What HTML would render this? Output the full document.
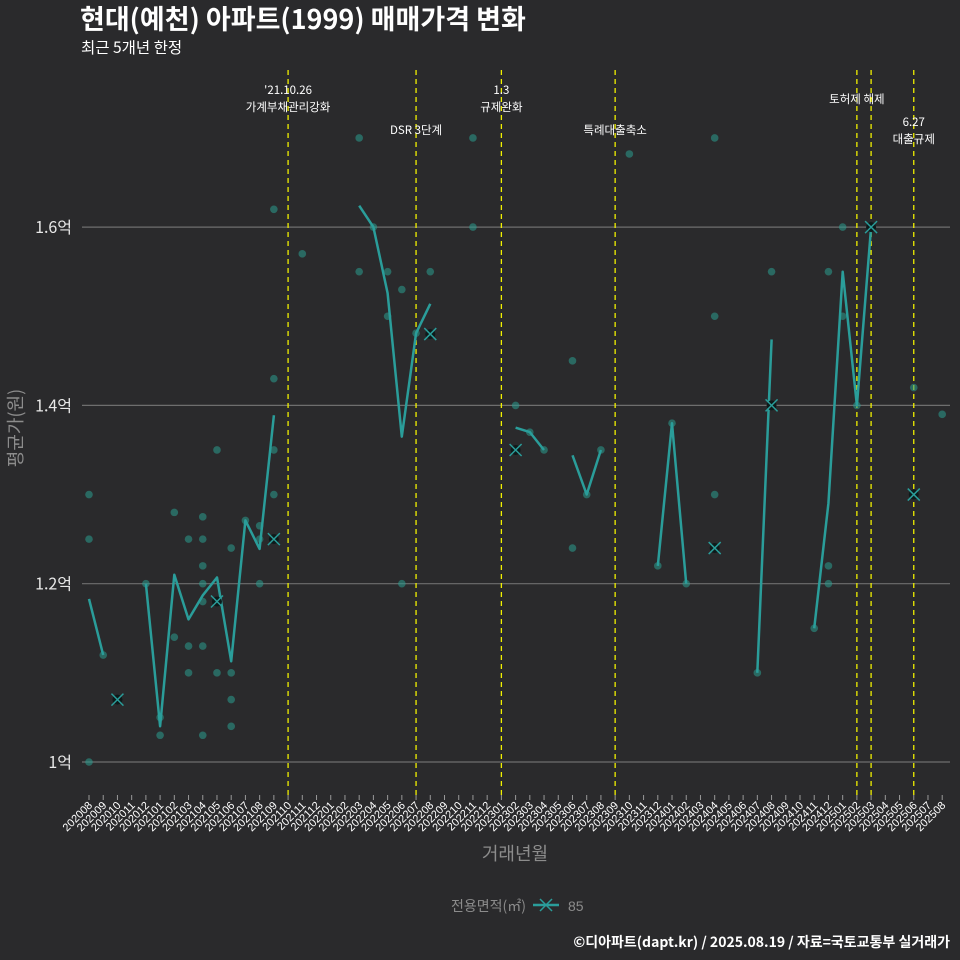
<!DOCTYPE html>
<html><head><meta charset="utf-8">
<style>
html,body{margin:0;padding:0;background:#2a2a2c;}
svg{display:block;font-family:"Liberation Sans","Noto Sans CJK KR",sans-serif;}
.kr{font-family:"Noto Sans CJK KR","Liberation Sans",sans-serif;}
</style></head>
<body>
<svg id="chart" width="960" height="960" viewBox="0 0 960 960">
<rect x="0" y="0" width="960" height="960" fill="#2a2a2c"/>
<text class="kr" x="80" y="29" font-size="27" font-weight="bold" fill="#ffffff">현대(예천) 아파트(1999) 매매가격 변화</text>
<text class="kr" x="81" y="53" font-size="15.5" fill="#ffffff">최근 5개년 한정</text>
<g id="grid"></g><g id="events"></g><g id="series"></g><g id="xaxis"></g>
<text class="kr" x="22" y="428" font-size="18" fill="#8c8c8c" text-anchor="middle" transform="rotate(-90 22 428)">평균가(원)</text>
<text class="kr" x="515" y="860" font-size="18" fill="#8c8c8c" text-anchor="middle">거래년월</text>
<g>
<text class="kr" x="526" y="911" font-size="14" fill="#8c8c8c" text-anchor="end">전용면적(㎡)</text>
<line x1="533" y1="905" x2="559" y2="905" stroke="#2a9d9a" stroke-width="2.5"/>
<path d="M540 899 L552 911 M552 899 L540 911" stroke="#2a9d9a" stroke-width="1.5"/>
<text x="568" y="911" font-size="14" fill="#8c8c8c">85</text>
</g>
<text class="kr" x="950" y="947" font-size="14" font-weight="bold" fill="#ffffff" text-anchor="end">©디아파트(dapt.kr) / 2025.08.19 / 자료=국토교통부 실거래가</text>
</svg>
<script>
const months = [];
for (let y = 2020, m = 8; months.length < 61; ) { months.push(y + String(m).padStart(2, '0')); m++; if (m > 12) { m = 1; y++; } }
const yTicks = [1.0, 1.2, 1.4, 1.6];
const yTickLabels = ['1억', '1.2억', '1.4억', '1.6억'];
const lineIdx = [0,1,null,4,5,6,7,8,9,10,11,12,13,null,19,20,21,22,23,24,null,30,31,32,null,34,35,36,null,40,41,42,null,47,48,null,51,52,53,54,55];
const lineVal = [1.183,1.12,null,1.2,1.04,1.21,1.16,1.187,1.207,1.113,1.271,1.239,1.389,null,1.624,1.6,1.526,1.365,1.481,1.514,null,1.375,1.37,1.35,null,1.344,1.30,1.35,null,1.22,1.38,1.20,null,1.10,1.474,null,1.15,1.29,1.55,1.40,1.60];
const dotIdx = [0,0,0,1,4,5,5,6,6,7,7,7,8,8,8,8,8,8,8,9,9,10,10,10,10,11,12,12,12,13,13,13,13,15,19,19,20,21,21,22,22,23,24,27,27,30,31,32,34,34,35,36,38,40,41,42,44,44,44,47,48,51,52,52,52,53,53,54,58,60];
const dotVal = [1.30,1.25,1.0,1.12,1.2,1.05,1.03,1.28,1.14,1.25,1.13,1.10,1.275,1.25,1.22,1.20,1.18,1.13,1.03,1.35,1.10,1.24,1.10,1.07,1.04,1.271,1.265,1.25,1.20,1.62,1.43,1.35,1.30,1.57,1.70,1.55,1.6,1.55,1.50,1.53,1.20,1.481,1.55,1.70,1.60,1.40,1.37,1.35,1.45,1.24,1.30,1.35,1.682,1.22,1.38,1.20,1.70,1.50,1.30,1.10,1.55,1.15,1.55,1.22,1.20,1.6,1.50,1.40,1.42,1.39];
const markIdx = [2,9,13,24,30,44,48,55,58];
const markVal = [1.07,1.18,1.25,1.48,1.35,1.24,1.40,1.60,1.30];
const eventIdx = [14,23,29,37,54,55,58];
const eventLabels = [["'21.10.26","가계부채관리강화"],["DSR 3단계"],["1.3","규제완화"],["특례대출축소"],["토허제 해제"],[],["6.27","대출규제"]];
const eventLabelY = [90,130,90,130,99,0,122];
const eventLabelDx = [0,0,0,0,0,0,0];

const NS = 'http://www.w3.org/2000/svg';
const X0 = 89, DX = 14.22, PL = 82, PR = 950, PT = 70, PB = 795;
const xs = i => X0 + i * DX;
const ys = v => 762 - (v - 1) * 891.5;
function mk(tag, attrs, parent) { const e = document.createElementNS(NS, tag); for (const k in attrs) e.setAttribute(k, attrs[k]); parent.appendChild(e); return e; }
const grid = document.getElementById('grid'), events = document.getElementById('events'), series = document.getElementById('series'), xaxis = document.getElementById('xaxis');

yTicks.forEach((v, i) => {
  const l = mk('line', {x1: PL, x2: PR, y1: ys(v), y2: ys(v), stroke: '#6e6e6e', 'stroke-width': 1.2}, grid);
  
  
  const t = mk('text', {x: 72, y: ys(v) + 6, 'font-size': 16, fill: '#e8e8e8', 'text-anchor': 'end', 'class': 'kr'}, grid);
  t.textContent = yTickLabels[i];
  
  
});

eventIdx.forEach((ix, k) => {
  const x = xs(ix);
  const l = mk('line', {x1: x, x2: x, y1: PT, y2: PB, stroke: '#f0f000', 'stroke-width': 1.3, 'stroke-dasharray': '5,4'}, events);
  
  
  eventLabels[k].forEach((s, j) => {
    const t = mk('text', {x: x + eventLabelDx[k], y: eventLabelY[k] + j * 17 + 4, 'font-size': 11.5, fill: '#ffffff', 'text-anchor': 'middle', 'class': 'kr'}, events);
    t.textContent = s;
    
    
  });
});

dotIdx.forEach((ix, k) => {
  const c = mk('circle', {cx: xs(ix), cy: ys(dotVal[k]), r: 3.8, fill: '#2a9d8f', 'fill-opacity': 0.55}, series);
  
  
});

let d = '', pen = false;
lineIdx.forEach((ix, k) => {
  if (ix === null) { pen = false; return; }
  d += (pen ? 'L' : 'M') + xs(ix).toFixed(1) + ' ' + ys(lineVal[k]).toFixed(1) + ' ';
  pen = true;
});
const p = mk('path', {d: d, fill: 'none', stroke: '#2a9d9a', 'stroke-width': 2.5, 'stroke-linejoin': 'round'}, series);



markIdx.forEach((ix, k) => {
  const x = xs(ix), y = ys(markVal[k]);
  const c = mk('circle', {cx: x, cy: y, r: 5, fill: '#0d1a1a'}, series);
  
  
  const m = mk('path', {d: `M${x-6} ${y-6} L${x+6} ${y+6} M${x+6} ${y-6} L${x-6} ${y+6}`, stroke: '#2a9d9a', 'stroke-width': 1.5}, series);
  
  
});

months.forEach((s, i) => {
  const x = xs(i);
  const tk = mk('line', {x1: x, x2: x, y1: 795, y2: 800, stroke: '#999', 'stroke-width': 1}, xaxis);
  
  
  const t = mk('text', {x: x + 4, y: 806, 'font-size': 11, fill: '#ffffff', 'text-anchor': 'end', transform: `rotate(-45 ${x + 4} 806)`}, xaxis);
  t.textContent = s;
  
  
});
</script>
</body></html>
